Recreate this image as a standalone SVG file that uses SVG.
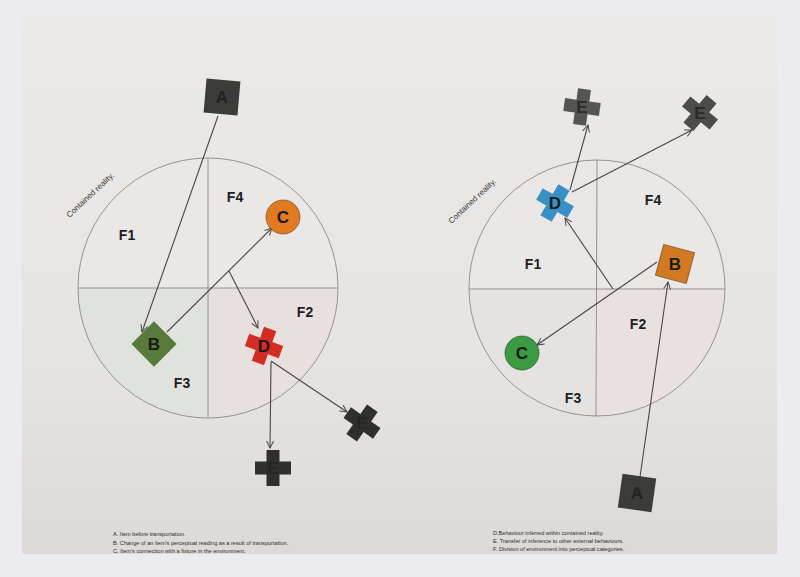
<svg xmlns="http://www.w3.org/2000/svg" width="800" height="577" viewBox="0 0 800 577">
<defs>
<linearGradient id="paper" x1="0" y1="0" x2="0" y2="1">
<stop offset="0" stop-color="#ebeae8"/>
<stop offset="0.65" stop-color="#e6e4e2"/>
<stop offset="1" stop-color="#dcd9d6"/>
</linearGradient>
<marker id="arr" viewBox="-9 -5 10 10" markerWidth="10" markerHeight="10" refX="0" refY="0" orient="auto" markerUnits="userSpaceOnUse">
<path d="M-7,-3.5 L0,0 L-7,3.5" fill="none" stroke="#4a4644" stroke-width="1"/>
</marker>
<path id="cross" d="M-6.5,-18 h13 v11.5 h11.5 v13 h-11.5 v11.5 h-13 v-11.5 h-11.5 v-13 h11.5 z"/>
</defs>
<style>
.circ{fill:none;stroke:#8c8987;stroke-width:0.9}
.div{stroke:#8c8987;stroke-width:0.9}
.con{stroke:#4a4644;stroke-width:1.1;fill:none;marker-end:url(#arr)}
.lbl{font-family:"Liberation Sans",Arial,sans-serif;font-weight:bold;font-size:17px;text-anchor:middle;dominant-baseline:central;fill:#1a1a1a}
.f{font-family:"Liberation Sans",Arial,sans-serif;font-weight:bold;font-size:14px;text-anchor:middle;dominant-baseline:central;fill:#1e1e1e}
.cr{font-family:"Liberation Sans Narrow","Liberation Sans",Arial,sans-serif;font-size:8px;text-anchor:middle;fill:#3a3836}
.leg{font-family:"Liberation Sans Narrow","Liberation Sans",Arial,sans-serif;font-size:5.6px;fill:#2e2c2a}
</style>
<rect x="0" y="0" width="800" height="577" fill="#ecebef"/>
<rect x="22" y="16" width="755" height="538" fill="url(#paper)"/>

<g id="left-fields">
<path d="M78,288 A130,130 0 0 1 338,288 Z" fill="#e9e8e6"/>
<path d="M208,288 L78,288 A130,130 0 0 0 208,418 Z" fill="#e0e3dd"/>
<path d="M208,288 L338,288 A130,130 0 0 1 208,418 Z" fill="#e7e0de"/>
<circle class="circ" cx="208" cy="288" r="130"/>
<line class="div" x1="78" y1="288" x2="338" y2="288"/>
<line class="div" x1="208" y1="158" x2="208" y2="418"/>
<text class="f" x="127" y="235">F1</text>
<text class="f" x="235" y="197">F4</text>
<text class="f" x="305" y="312">F2</text>
<text class="f" x="182" y="383">F3</text>
<text class="cr" transform="translate(92,197) rotate(-43)">Contained reality.</text>
</g>

<g id="right-fields">
<path d="M469,288 A128,128 0 0 1 725,288 Z" fill="#e9e8e6"/>
<path d="M597,288 L469,288 A128,128 0 0 0 597,416 Z" fill="#e4e3e2"/>
<path d="M597,288 L725,288 A128,128 0 0 1 597,416 Z" fill="#e8e1e0"/>
<circle class="circ" cx="597" cy="288" r="128"/>
<line class="div" x1="469" y1="289" x2="725" y2="289"/>
<line class="div" x1="597" y1="160" x2="596" y2="416"/>
<text class="f" x="533" y="264">F1</text>
<text class="f" x="653" y="200">F4</text>
<text class="f" x="638" y="324">F2</text>
<text class="f" x="573" y="398">F3</text>
<text class="cr" transform="translate(474,203) rotate(-43)">Contained reality.</text>
</g>

<g id="connectors">
<line class="con" x1="218" y1="116" x2="142" y2="332"/>
<line class="con" x1="167" y1="332" x2="272" y2="228"/>
<line class="con" x1="229" y1="271" x2="258" y2="328"/>
<line class="con" x1="271" y1="362" x2="270" y2="448"/>
<line class="con" x1="271" y1="361" x2="347" y2="412"/>
<line class="con" x1="640" y1="477" x2="668" y2="282"/>
<line class="con" x1="657" y1="262" x2="537" y2="345"/>
<line class="con" x1="613" y1="289" x2="565" y2="218"/>
<line class="con" x1="570" y1="190" x2="588" y2="125"/>
<line class="con" x1="572" y1="192" x2="692" y2="130"/>
</g>

<g id="L-A">
<rect x="-17" y="-17" width="34" height="34" fill="#3b3b39" transform="translate(222,97) rotate(5)"/>
<text class="lbl" x="222" y="97" style="fill:#222">A</text>
</g>
<g id="L-B">
<rect x="-16" y="-16" width="32" height="32" fill="#587a3a" transform="translate(154,344) rotate(45)"/>
<text class="lbl" x="154" y="344">B</text>
</g>
<g id="L-C">
<circle cx="283" cy="217" r="17" fill="#e27a22" stroke="#6a3a10" stroke-width="0.6"/>
<text class="lbl" x="283" y="217">C</text>
</g>
<g id="L-D">
<use href="#cross" fill="#d42b22" transform="translate(264,346) rotate(20)"/>
<text class="lbl" x="264" y="346">D</text>
</g>
<g id="L-E1">
<use href="#cross" fill="#2f2f2d" transform="translate(273,468)"/>
<text class="lbl" x="273" y="468" style="fill:#242422">E</text>
</g>
<g id="L-E2">
<use href="#cross" fill="#2f2f2d" transform="translate(362,423) rotate(35)"/>
<text class="lbl" x="362" y="423" style="fill:#242422">E</text>
</g>

<g id="R-A">
<rect x="-17" y="-17" width="34" height="34" fill="#3b3c38" transform="translate(637,493) rotate(8)"/>
<text class="lbl" x="637" y="493" style="fill:#222">A</text>
</g>
<g id="R-B">
<rect x="-16" y="-16" width="32" height="32" fill="#d27a22" stroke="#6a3a10" stroke-width="0.6" transform="translate(675,264) rotate(15)"/>
<text class="lbl" x="675" y="264">B</text>
</g>
<g id="R-C">
<circle cx="522" cy="353" r="17" fill="#3c9a42" stroke="#1e4a20" stroke-width="0.6"/>
<text class="lbl" x="522" y="353">C</text>
</g>
<g id="R-D">
<use href="#cross" fill="#3a8fc6" transform="translate(555,203) rotate(30)"/>
<text class="lbl" x="555" y="203">D</text>
</g>
<g id="R-E1">
<use href="#cross" fill="#565650" transform="translate(582,107) rotate(8)"/>
<text class="lbl" x="582" y="107" style="fill:#2a2a28">E</text>
</g>
<g id="R-E2">
<use href="#cross" fill="#4c4c48" transform="translate(700,113) rotate(40)"/>
<text class="lbl" x="700" y="113" style="fill:#2a2a28">E</text>
</g>

<g id="legend-left">
<text class="leg" x="113" y="536">A.  Item before transportation.</text>
<text class="leg" x="113" y="544.5">B.  Change of an item's perceptual reading as a result of transportation.</text>
<text class="leg" x="113" y="553">C.  Item's connection with a fixture in the environment.</text>
</g>
<g id="legend-right">
<text class="leg" x="493" y="535">D.Behaviour inferred within contained reality.</text>
<text class="leg" x="493" y="543">E. Transfer of inference to other external behaviours.</text>
<text class="leg" x="493" y="551">F. Division of environment into perceptual categories.</text>
</g>
</svg>
